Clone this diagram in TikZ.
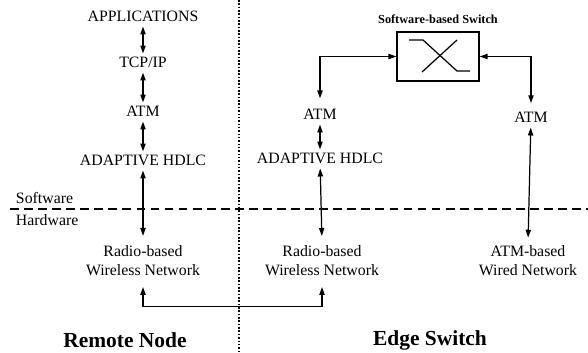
\documentclass[tikz,border=0pt]{standalone}
\usepackage{fontspec}
\setmainfont{Liberation Serif}
\usetikzlibrary{arrows.meta, positioning}

\begin{document}
\begin{tikzpicture}[x=0.02cm, y=-0.02cm,
layer/.style = {% Protocol Layer
  font=\fontsize{9}{10.8}\selectfont, inner sep=1.5pt,
  text height=6.5pt, text depth=1pt},
net/.style = {% Network under the line
  font=\fontsize{9}{10.8}\selectfont, align=center, inner sep=1.5pt},
side/.style = {layer, anchor=west},
title/.style = {font=\fontsize{12.2}{14}\selectfont\bfseries},
BA/.style = {% Both-way Arrow
  {Triangle[length=4.5pt,width=3pt]}-{Triangle[length=4.5pt,width=3pt]},
  line width=0.7pt},
SW/.style = {% Switch box
  draw, line width=0.7pt, minimum width=1.64cm, minimum height=0.98cm}]
\useasboundingbox (0,0) rectangle (588,352);
% remote node stack
\node[layer] (app)   at (143,17)  {APPLICATIONS};
\node[layer] (tcp)   at (143,63)  {TCP/IP};
\node[layer] (atmA)  at (143,112) {ATM};
\node[layer] (hdlcA) at (143,161) {ADAPTIVE HDLC};
\node[net]   (radA)  at (143,261) {Radio-based\\Wireless Network};
% edge switch stacks
\node[SW] (sw) at (438,56.5) {};
\node[font=\fontsize{7}{8}\selectfont\bfseries, above=1pt of sw] (swl) {Software-based Switch};
\node[layer] (atmB)  at (320,115) {ATM};
\node[layer] (hdlcB) at (320,159) {ADAPTIVE HDLC};
\node[net]   (radB)  at (322,261) {Radio-based\\Wireless Network};
\node[layer] (atmC)  at (531,118) {ATM};
\node[net]   (wire)  at (528,261) {ATM-based\\Wired Network};
% software / hardware split
\node[side] (soft) at (13,199) {Software};
\node[side] (hard) at (13,221) {Hardware};
\draw[line width=0.7pt, dash pattern=on 5pt off 3pt] (10,209) -- (588,209);
\draw[line width=0.9pt, densely dotted] (239,0) -- (239,352);
% switch symbol
\draw[line width=0.7pt] (409,40) -- (423,40) -- (457,71) -- (470,71);
\draw[line width=0.7pt] (422,72) -- (457,40);
% arrows
\draw[BA] (app) -- (tcp);
\draw[BA] (tcp) -- (atmA);
\draw[BA] (atmA) -- (hdlcA);
\draw[BA, shorten >=4pt] (hdlcA) -- (radA.north);
\draw[BA] (atmB) -- (hdlcB);
\draw[BA, shorten >=4pt] (hdlcB) -- (radB.north);
\draw[BA, shorten >=3pt] (atmC) -- (wire.north);
\draw[BA, shorten <=4pt] (atmB.north) |- (sw.west);
\draw[BA, shorten <=3pt] (atmC.north) |- (sw.east);
\draw[BA, shorten <=4.5pt, shorten >=4.5pt] (radA.south) -- ++(0,27.5) -| (radB.south);
% titles
\node[title] (remote) at (125,340) {Remote Node};
\node[title] (edge)   at (430,340) {Edge Switch};
\end{tikzpicture}
\end{document}
